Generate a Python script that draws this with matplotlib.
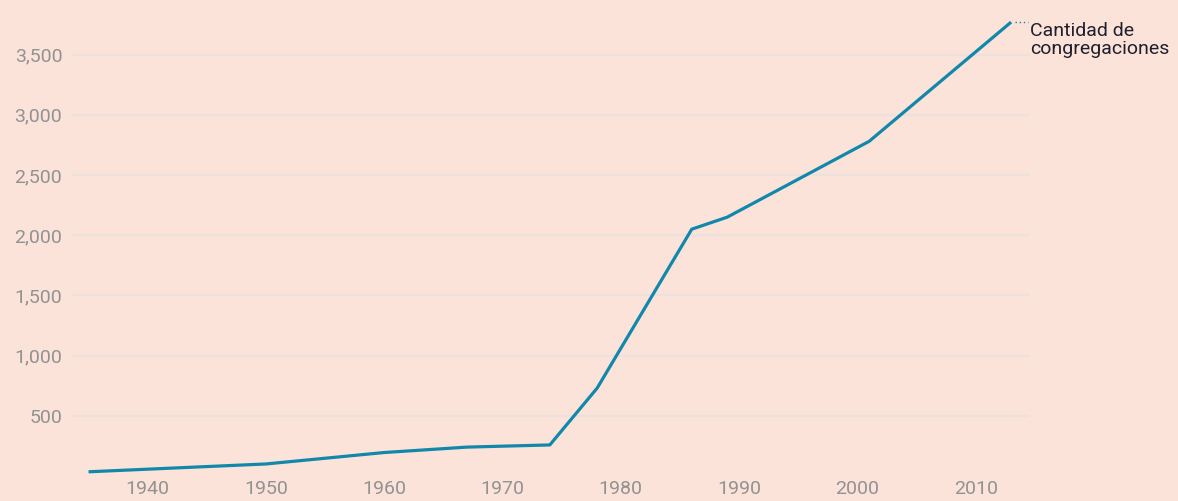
import matplotlib.pyplot as plt

years = [1935, 1950, 1960, 1967, 1974, 1978, 1986, 1989, 2001, 2013]
congregaciones = [35, 100, 195, 240, 258, 730, 2050, 2150, 2780, 3770]

xticks = [1940, 1950, 1960, 1970, 1980, 1990, 2000, 2010]
yticks = [500, 1000, 1500, 2000, 2500, 3000, 3500]

bg = '#fbe3d9'
plt.rcParams['font.family'] = ['Roboto', 'DejaVu Sans']

fig = plt.figure(figsize=(11.78, 5.01), dpi=100, facecolor=bg)
ax = fig.add_axes([0.0611, 0.0499, 0.8133, 0.930], facecolor=bg)

ax.plot(years, congregaciones, color='#1188ab', lw=2.3, solid_capstyle='butt', zorder=3)

# dotted connector to the label
ax.plot([years[-1] + 0.3, 2014.4], [congregaciones[-1], congregaciones[-1]],
        color='#1188ab', lw=1, ls=(0, (1, 2)), clip_on=False)
ax.text(2014.6, congregaciones[-1], 'Cantidad de\ncongregaciones', fontsize=14,
        color='#1f1f2e', va='top', ha='left', linespacing=1.0, clip_on=False)

ax.set_xlim(1933.6, 2014.6)
ax.set_ylim(0, 3870)
ax.set_xticks(xticks)
ax.set_yticks(yticks)
ax.set_yticklabels(['{:,}'.format(v) for v in yticks])
ax.grid(axis='y', color='#ebe2de', lw=1.5)
ax.set_axisbelow(True)
ax.tick_params(length=0, labelsize=14, labelcolor='#929292')
ax.tick_params(axis='y', pad=7)
ax.tick_params(axis='x', pad=3)
for s in ax.spines.values():
    s.set_visible(False)

fig.savefig('out.png', dpi=100, facecolor=bg)
